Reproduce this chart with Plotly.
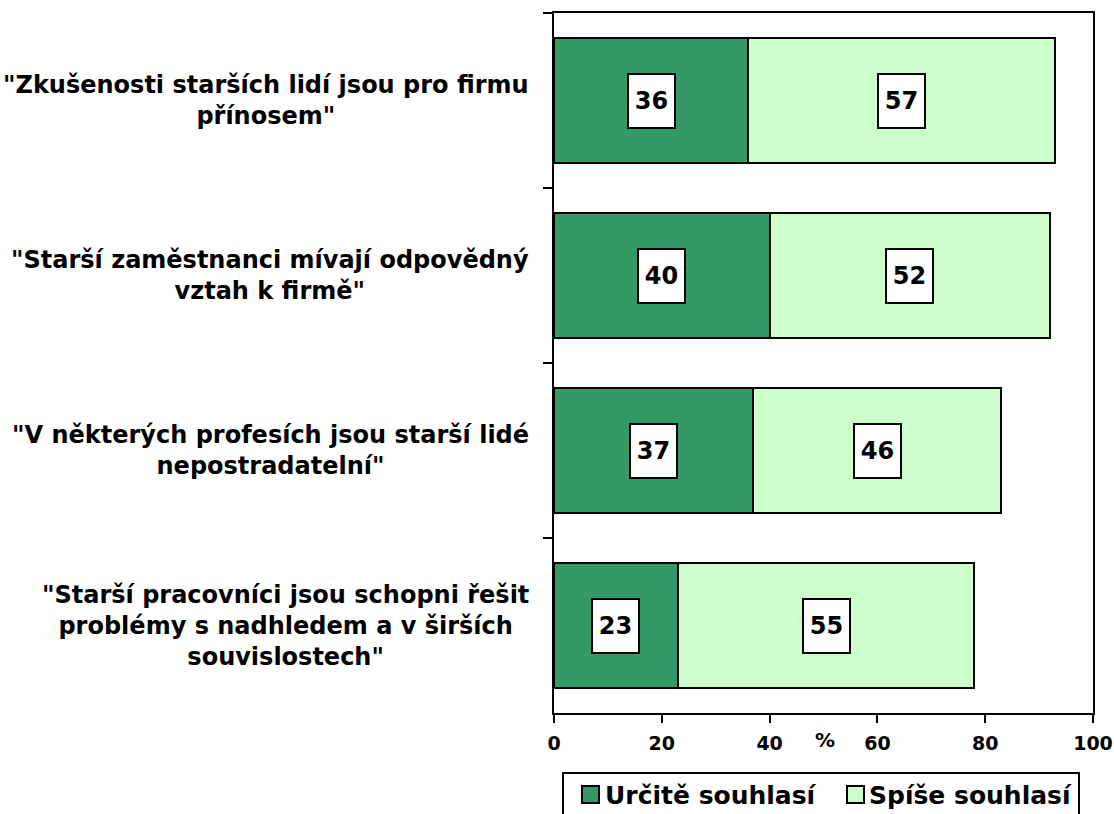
import plotly.graph_objects as go

# Survey statements (top to bottom) and shares of respondents in %
statements = [
    '"Zkušenosti starších lidí jsou pro firmu<br>přínosem"',
    '"Starší zaměstnanci mívají odpovědný<br>vztah k firmě"',
    '"V některých profesích jsou starší lidé<br>nepostradatelní"',
    '"Starší pracovníci jsou schopni řešit<br>problémy s nadhledem a v širších<br>souvislostech"',
]
categories = ["s1", "s2", "s3", "s4"]
urcite = [36, 40, 37, 23]
spise = [57, 52, 46, 55]
series_names = ["Určitě souhlasí", "Spíše souhlasí"]
series_colors = ["#339966", "#CCFFCC"]
x_ticks = [0, 20, 40, 60, 80, 100]

FONT = "DejaVu Sans"
W, H = 1114, 814
L, R, T, B = 554, 21, 13, 101
pw, ph = W - L - R, H - T - B


def px_x(p):
    return (p - L) / pw


def px_y(p):
    return (T + ph - p) / ph


fig = go.Figure()
for name, vals, col in zip(series_names, [urcite, spise], series_colors):
    fig.add_trace(go.Bar(
        y=categories, x=vals, name=name, orientation="h",
        marker=dict(color=col, line=dict(color="black", width=2)),
        showlegend=False, hoverinfo="x+name",
    ))

annotations = []
# value boxes centred in each segment
for i, cat in enumerate(categories):
    starts = [0, urcite[i]]
    for s, v in zip(starts, [urcite[i], spise[i]]):
        annotations.append(dict(
            x=s + v / 2, y=cat, xref="x", yref="y", text=str(v), showarrow=False,
            font=dict(family=FONT, size=24, color="black", weight="bold"),
            bgcolor="white", bordercolor="black", borderwidth=2, borderpad=2,
            width=41, height=48,
        ))
# statement labels left of the axis
for cat, txt in zip(categories, statements):
    annotations.append(dict(
        x=px_x(531), y=cat, xref="paper", yref="y", text=txt,
        showarrow=False, xanchor="right", yanchor="middle", align="center",
        font=dict(family=FONT, size=24, color="black", weight="bold"),
    ))
# axis unit
annotations.append(dict(
    x=50.3, y=px_y(740), xref="x", yref="paper", text="%",
    showarrow=False, xanchor="center", yanchor="middle",
    font=dict(family=FONT, size=20, color="black", weight="bold"),
))

# legend drawn as a framed box with two swatches
shapes = [dict(type="rect", xref="paper", yref="paper",
               x0=px_x(563), x1=px_x(1079), y0=px_y(822), y1=px_y(773),
               line=dict(color="black", width=2), fillcolor="white")]
legend_items = [(582, 603), (847, 867)]
for (sx, tx), name, col in zip(legend_items, series_names, series_colors):
    shapes.append(dict(type="rect", xref="paper", yref="paper",
                       x0=px_x(sx), x1=px_x(sx + 17), y0=px_y(803), y1=px_y(786),
                       line=dict(color="black", width=2), fillcolor=col))
    annotations.append(dict(
        x=px_x(tx), y=px_y(795), xref="paper", yref="paper", text=name,
        showarrow=False, xanchor="left", yanchor="middle",
        font=dict(family=FONT, size=25, color="black", weight="bold"),
    ))

fig.update_layout(
    width=W, height=H, margin=dict(l=L, r=R, t=T, b=B, pad=0),
    barmode="stack", bargap=0.286,
    plot_bgcolor="white", paper_bgcolor="white",
    annotations=annotations, shapes=shapes,
    xaxis=dict(range=[0, 100], tickvals=x_ticks, ticks="outside", ticklen=8,
               tickwidth=2, tickcolor="black", showgrid=False, zeroline=False,
               showline=True, linecolor="black", linewidth=2, mirror=True,
               automargin=False, ticklabelstandoff=4,
               tickfont=dict(family=FONT, size=19, color="black", weight="bold")),
    yaxis=dict(categoryorder="array", categoryarray=categories, autorange="reversed",
               tickson="boundaries", ticks="outside", ticklen=9, tickwidth=2,
               tickcolor="black", showticklabels=False, showgrid=False,
               showline=True, linecolor="black", linewidth=2, mirror=True,
               automargin=False),
)

fig.write_html("out.html")
